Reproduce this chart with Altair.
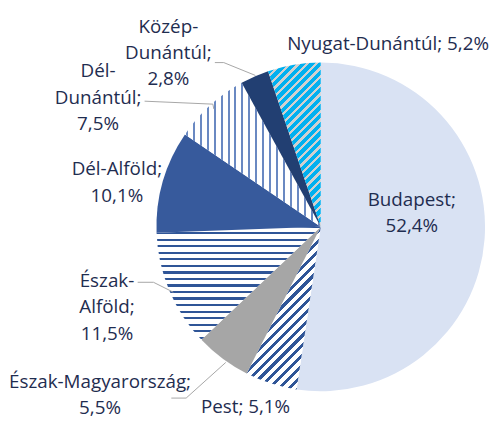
import math
import altair as alt
import pandas as pd

# ---- data ----
regions = ["Budapest", "Pest", "Észak-Magyarország", "Észak-Alföld",
           "Dél-Alföld", "Dél-Dunántúl", "Közép-Dunántúl", "Nyugat-Dunántúl"]
values = [52.4, 5.1, 5.5, 11.5, 10.1, 7.5, 2.8, 5.2]
label_texts = ["Budapest;\n52,4%", "Pest; 5,1%", "Észak-Magyarország;\n5,5%",
               "Észak-\nAlföld;\n11,5%", "Dél-Alföld;\n10,1%", "Dél-\nDunántúl;\n7,5%",
               "Közép-\nDunántúl;\n2,8%", "Nyugat-Dunántúl; 5,2%"]

# ---- layout (chart pixel coordinates; page = chart + 8); y = first text line ----
W, H = 486, 413
CX, CY, R = 316, 219, 166
label_x = [408, 240, 93, 100, 110, 91, 162, 384]
label_y = [192, 401, 376, 274, 161, 62, 17, 34]
leader_lines = [  # (x, y) polylines
    [(209, 53), (218, 53), (250, 66)],
    [(138, 92), (207, 95), (208, 100)],
    [(131, 275), (147, 275), (167, 285)],
    [(165, 392), (180, 392), (220, 356)],
]

TEXT = "#1F2D50"
BLUE = "#2F5597"


def slice_bbox(i):
    total = sum(values)
    c0 = sum(values[:i]) / total * 2 * math.pi
    c1 = sum(values[:i + 1]) / total * 2 * math.pi
    angs = [c0, c1] + [k * math.pi / 2 for k in range(5) if c0 < k * math.pi / 2 < c1]
    xs = [CX] + [CX + R * math.sin(a) for a in angs]
    ys = [CY] + [CY - R * math.cos(a) for a in angs]
    return max(xs) - min(xs), max(ys) - min(ys)


def stripes(i, bg, fg, sx, sy, period, line):
    w, h = slice_bbox(i)
    n = math.hypot(sx, sy)
    sx, sy = sx / n, sy / n
    extent = abs(sy) * w + abs(sx) * h
    k = extent / (sy * sy * w / h + sx * sx * h / w)
    gx, gy = k * sy / h, -k * sx / w
    count = extent / period
    stops = [{"offset": 0, "color": bg}]
    j = 0
    while j / count < 1:
        o0 = j / count + 0.15 / count
        o1 = min(1, o0 + (line / period) / count)
        o0 = min(1, o0)
        stops += [{"offset": o0, "color": bg}, {"offset": o0, "color": fg},
                  {"offset": o1, "color": fg}, {"offset": o1, "color": bg}]
        j += 1
    stops.append({"offset": 1, "color": bg})
    return {"gradient": "linear",
            "x1": 0.5 - gx / 2, "y1": 0.5 - gy / 2,
            "x2": 0.5 + gx / 2, "y2": 0.5 + gy / 2,
            "stops": stops}


fills = {
    "Pest": stripes(1, "#FFFFFF", BLUE, 1, -1, 7.0, 3.0),
    "Észak-Magyarország": "#A6A6A6",
    "Észak-Alföld": stripes(3, "#FFFFFF", BLUE, 1, 0, 6.6, 2.2),
    "Dél-Alföld": "#375A9C",
    "Dél-Dunántúl": stripes(5, "#FFFFFF", "#6A89C2", 0, 1, 7.0, 2.0),
    "Közép-Dunántúl": "#223F72",
    "Nyugat-Dunántúl": stripes(7, "#00B0F0", "#D0D0D0", 1, -1, 6.2, 2.4),
}
fill_enc = {
    "condition": [{"test": f"datum.region === '{r}'", "value": v} for r, v in fills.items()],
    "value": "#D9E2F3",
}

df = pd.DataFrame({"region": regions, "value": values, "order": list(range(len(regions)))})

pie = alt.Chart(df).mark_arc(radius=R, strokeWidth=0).encode(
    theta=alt.Theta("value:Q", stack=True),
    order=alt.Order("order:Q"),
    x=alt.value(CX),
    y=alt.value(CY),
    fill=fill_enc,
)

lines_rows = []
for li, poly in enumerate(leader_lines):
    for pi, (x, y) in enumerate(poly):
        lines_rows.append({"line": li, "idx": pi, "x": x, "y": y})
leaders = alt.Chart(pd.DataFrame(lines_rows)).mark_line(color="#A6A6A6", strokeWidth=1).encode(
    x=alt.X("x:Q", scale=None),
    y=alt.Y("y:Q", scale=None),
    detail="line:N",
    order="idx:Q",
)

lab_df = pd.DataFrame({"text": label_texts, "x": label_x, "y": label_y})
labels = alt.Chart(lab_df).mark_text(
    font="Open Sans", fontSize=19, color=TEXT, align="center", baseline="middle",
    lineBreak="\n", lineHeight=26.5,
).encode(
    x=alt.X("x:Q", scale=None),
    y=alt.Y("y:Q", scale=None),
    text="text:N",
)

chart = alt.layer(pie, leaders, labels).properties(
    width=W, height=H, padding=0, autosize=alt.AutoSizeParams(type="none")
).configure_view(stroke=None)

chart.save("out.html", embed_options={"renderer": "svg", "actions": False})
